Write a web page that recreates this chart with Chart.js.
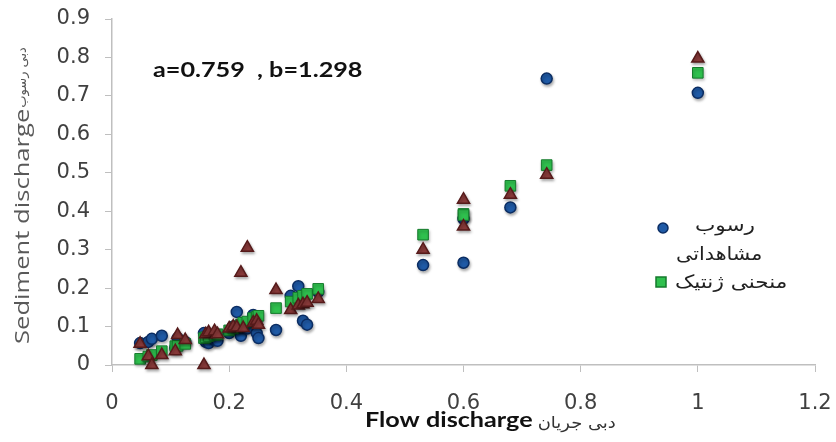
<!DOCTYPE html>
<html>
<head>
<meta charset="utf-8">
<script src="https://cdn.jsdelivr.net/npm/chart.js@4.4.1/dist/chart.umd.min.js"></script>
<style>
  html, body { margin: 0; padding: 0; background: #fff; }
</style>
</head>
<body>
<canvas id="chart" width="836" height="442"></canvas>
<script>
// flow discharge (x) shared by the three series
const flow = [0.048, 0.062, 0.068, 0.085, 0.108, 0.112, 0.125, 0.157, 0.16, 0.165, 0.175, 0.18,
  0.2, 0.207, 0.213, 0.22, 0.224, 0.231, 0.241, 0.247, 0.25, 0.28, 0.305, 0.318, 0.326, 0.333, 0.352,
  0.531, 0.6, 0.6, 0.68, 0.742, 1.0];
// observed sediment (blue circles)
const sedObserved = [0.057, 0.06, 0.068, 0.076, 0.045, 0.07, 0.06, 0.083, 0.06, 0.057, 0.065, 0.063,
  0.083, 0.1, 0.138, 0.076, 0.1, 0.095, 0.13, 0.083, 0.07, 0.091, 0.18, 0.205, 0.115, 0.105, 0.19,
  0.26, 0.38, 0.266, 0.41, 0.745, 0.708];
// genetic curve (green squares)
const sedGenetic = [0.016, 0.022, 0.026, 0.036, 0.049, 0.05, 0.055, 0.07, 0.072, 0.075, 0.078, 0.08,
  0.09, 0.095, 0.1, 0.105, 0.11, 0.113, 0.122, 0.125, 0.128, 0.148, 0.165, 0.175, 0.18, 0.185, 0.198,
  0.339, 0.393, 0.39, 0.466, 0.52, 0.76];
// third series (triangles, not in legend)
const sedThird = [0.055, 0.023, 0, 0.026, 0.036, 0.078, 0.065, 0, 0.08, 0.085, 0.088, 0.08,
  0.095, 0.1, 0.098, 0.24, 0.096, 0.305, 0.11, 0.115, 0.105, 0.195, 0.143, 0.155, 0.158, 0.162, 0.172,
  0.30, 0.43, 0.36, 0.443, 0.495, 0.797];

const xTicks = [0, 0.2, 0.4, 0.6, 0.8, 1, 1.2];
const yTicks = [0, 0.1, 0.2, 0.3, 0.4, 0.5, 0.6, 0.7, 0.8, 0.9];

const toPts = ys => flow.map((x, i) => ({ x, y: ys[i] }));

const AXIS = '#bfbfbf';
const TXT = '#404040';

// draw text stretched horizontally, returns drawn width
function wideText(ctx, text, x, y, sx = 1.2) {
  ctx.save();
  ctx.translate(x, y);
  ctx.scale(sx, 1);
  ctx.fillText(text, 0, 0);
  const w = ctx.measureText(text).width * sx;
  ctx.restore();
  return w;
}

const shadowPlugin = {
  id: 'shadow',
  beforeDatasetsDraw(chart) {
    const ctx = chart.ctx;
    ctx.save();
    ctx.shadowColor = 'rgba(0,0,0,0.3)';
    ctx.shadowBlur = 3;
    ctx.shadowOffsetX = 1;
    ctx.shadowOffsetY = 2;
  },
  afterDatasetsDraw(chart) {
    chart.ctx.restore();
  }
};

const textPlugin = {
  id: 'texts',
  afterDraw(chart) {
    const ctx = chart.ctx;
    ctx.save();
    ctx.textBaseline = 'middle';
    ctx.textAlign = 'left';

    // coefficients
    ctx.fillStyle = '#111';
    ctx.font = 'bold 21px Lato';
    wideText(ctx, 'a=0.759  , b=1.298', 153, 70);

    // x title
    ctx.font = 'bold 21px Lato';
    ctx.fillStyle = '#111';
    const w = wideText(ctx, 'Flow discharge', 365, 420);
    ctx.font = '16px "DejaVu Sans"';
    ctx.fillStyle = '#333';
    wideText(ctx, 'دبی جریان', 365 + w + 5, 424, 1.12);

    // y title
    ctx.save();
    ctx.translate(23, 344);
    ctx.rotate(-Math.PI / 2);
    ctx.font = '20px "Open Sans"';
    ctx.fillStyle = '#595959';
    const wy = wideText(ctx, 'Sediment discharge', 0, 0, 1.28);
    ctx.font = '13px "DejaVu Sans"';
    wideText(ctx, 'دبی رسوب', wy + 1, 0, 1.0);
    ctx.restore();

    // legend
    ctx.lineWidth = 1.5;
    ctx.fillStyle = '#1f5aa6';
    ctx.strokeStyle = '#0b2d63';
    ctx.beginPath();
    ctx.arc(663, 228, 5, 0, Math.PI * 2);
    ctx.fill();
    ctx.stroke();
    ctx.fillStyle = '#2fc04e';
    ctx.strokeStyle = '#157a2c';
    ctx.fillRect(656, 277, 10, 10);
    ctx.strokeRect(656, 277, 10, 10);

    ctx.fillStyle = '#222';
    ctx.font = '18px "DejaVu Sans"';
    wideText(ctx, 'رسوب', 695, 226);
    wideText(ctx, 'مشاهداتی', 676, 255, 1.15);
    wideText(ctx, 'منحنی ژنتیک', 675, 283);
    ctx.restore();
  }
};

new Chart(document.getElementById('chart'), {
  type: 'scatter',
  data: {
    datasets: [
      {
        label: 'رسوب مشاهداتی',
        data: toPts(sedObserved),
        pointStyle: 'circle',
        pointRadius: 5.5,
        backgroundColor: '#1f5aa6',
        borderColor: '#0b2d63',
        borderWidth: 1.5,
        order: 3,
        clip: false
      },
      {
        label: 'منحنی ژنتیک',
        data: toPts(sedGenetic),
        pointStyle: 'rect',
        pointRadius: 7.5,
        backgroundColor: '#2fc04e',
        borderColor: '#157a2c',
        borderWidth: 1,
        order: 2,
        clip: false
      },
      {
        label: 'third',
        data: toPts(sedThird),
        pointStyle: 'triangle',
        pointRadius: 7,
        backgroundColor: '#8a3a3a',
        borderColor: '#561a1a',
        borderWidth: 1.5,
        order: 1,
        clip: false
      }
    ]
  },
  options: {
    responsive: false,
    animation: false,
    layout: { padding: { top: 19, right: 21, left: 0, bottom: 0 } },
    plugins: { legend: { display: false }, tooltip: { enabled: false } },
    scales: {
      x: {
        type: 'linear',
        min: 0,
        max: 1.2,
        afterBuildTicks: s => { s.ticks = xTicks.map(v => ({ value: v })); },
        afterFit: s => { s.height = 77; s.paddingLeft = 0; s.paddingRight = 0; },
        grid: { drawOnChartArea: false, color: AXIS, tickLength: 7 },
        border: { color: AXIS, width: 1.5 },
        ticks: { color: TXT, font: { family: 'DejaVu Sans', size: 21 }, padding: 19, maxRotation: 0,
          callback: v => String(v) }
      },
      y: {
        type: 'linear',
        min: 0,
        max: 0.9,
        afterBuildTicks: s => { s.ticks = yTicks.map(v => ({ value: v })); },
        afterFit: s => { s.width = 112; s.paddingTop = 0; s.paddingBottom = 0; },
        grid: { drawOnChartArea: false, color: AXIS, tickLength: 7 },
        border: { color: AXIS, width: 1.5 },
        ticks: { color: TXT, font: { family: 'DejaVu Sans', size: 21 }, padding: 15,
          callback: v => String(v) }
      }
    }
  },
  plugins: [shadowPlugin, textPlugin]
});
</script>
</body>
</html>
